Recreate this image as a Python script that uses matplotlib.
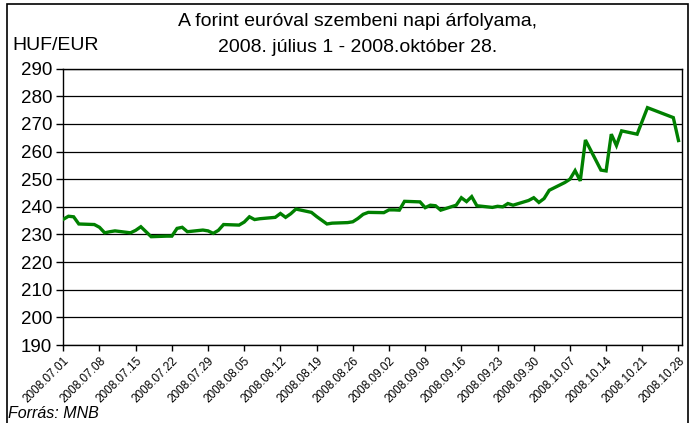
import matplotlib
matplotlib.use("Agg")
import matplotlib.pyplot as plt
import datetime as dt
from matplotlib.patches import Rectangle

plt.rcParams['font.family'] = ['Liberation Sans', 'DejaVu Sans']

dates = ["07.01", "07.02", "07.03", "07.04", "07.07", "07.08", "07.09", "07.10", "07.11",
         "07.14", "07.15", "07.16", "07.17", "07.18", "07.21", "07.22", "07.23", "07.24",
         "07.25", "07.28", "07.29", "07.30", "07.31", "08.01", "08.04", "08.05", "08.06",
         "08.07", "08.08", "08.11", "08.12", "08.13", "08.14", "08.15", "08.18", "08.19",
         "08.21", "08.22", "08.25", "08.26", "08.27", "08.28", "08.29", "09.01", "09.02",
         "09.03", "09.04", "09.05", "09.08", "09.09", "09.10", "09.11", "09.12", "09.15",
         "09.16", "09.17", "09.18", "09.19", "09.22", "09.23", "09.24", "09.25", "09.26",
         "09.29", "09.30", "10.01", "10.02", "10.03", "10.06", "10.07", "10.08", "10.09",
         "10.10", "10.13", "10.14", "10.15", "10.16", "10.17", "10.20", "10.22", "10.27",
         "10.28"]
values = [235.5, 236.6, 236.4, 233.8, 233.6, 232.6, 230.6, 231.0, 231.3,
          230.6, 231.5, 232.8, 231.0, 229.2, 229.4, 229.4, 232.2, 232.6,
          231.0, 231.6, 231.3, 230.4, 231.5, 233.6, 233.4, 234.5, 236.4,
          235.4, 235.7, 236.2, 237.6, 236.2, 237.5, 239.2, 238.0, 236.5,
          233.8, 234.1, 234.3, 234.6, 235.8, 237.3, 238.0, 237.9, 238.9,
          238.9, 238.8, 242.0, 241.8, 239.7, 240.6, 240.4, 238.8, 240.6,
          243.3, 241.9, 243.7, 240.4, 239.8, 240.2, 240.0, 241.2, 240.6,
          242.3, 243.3, 241.6, 243.0, 246.0, 248.8, 250.0, 253.1, 249.4,
          264.2, 253.3, 253.0, 266.3, 262.2, 267.5, 266.3, 275.9, 272.3,
          264.0]
tick_labels = ["2008.07.01", "2008.07.08", "2008.07.15", "2008.07.22", "2008.07.29",
               "2008.08.05", "2008.08.12", "2008.08.19", "2008.08.26", "2008.09.02",
               "2008.09.09", "2008.09.16", "2008.09.23", "2008.09.30", "2008.10.07",
               "2008.10.14", "2008.10.21", "2008.10.28"]
y_ticks = list(range(190, 291, 10))

x = [dt.datetime(2008, int(d[:2]), int(d[3:])) for d in dates]
xt = [dt.datetime.strptime(t, "%Y.%m.%d") for t in tick_labels]

fig = plt.figure(figsize=(6.94, 4.23), dpi=100)
ax = fig.add_axes([63.3/694, 1-345/423, (681.5-63.3)/694, (345-68.7)/423])

ax.plot(x, values, color='#008000', lw=2.4, solid_joinstyle='miter', zorder=3)

ax.set_ylim(190, 290)
ax.set_yticks(y_ticks)
ax.set_xlim(dt.datetime(2008, 7, 1), dt.datetime(2008, 10, 28, 14))
ax.set_xticks(xt)
ax.set_xticklabels(tick_labels, rotation=45, ha='right', rotation_mode='anchor', fontsize=8.5)
ax.tick_params(axis='y', labelsize=13.5, length=5, width=1, direction='out', pad=3)
ax.tick_params(axis='x', length=4, width=1, direction='out', pad=3)
ax.yaxis.grid(True, color='black', lw=0.9)
ax.set_axisbelow(True)
for s in ax.spines.values():
    s.set_color('black')
    s.set_linewidth(1.0)

fig.text(358/694, 1-22/423, "A forint euróval szembeni napi árfolyama,", ha='center', va='center', fontsize=14)
fig.text(358/694, 1-47/423, "2008. július 1 - 2008.október 28.", ha='center', va='center', fontsize=14)
fig.text(12/694, 1-46/423, "HUF/EUR", ha='left', va='center', fontsize=14)
fig.text(8/694, 1-413/423, "Forrás: MNB", ha='left', va='center', fontsize=11.5, style='italic')

fig.patches.append(Rectangle((7/694, -0.01), (688-7)/694, 1 - 4/423 + 0.01,
                             transform=fig.transFigure, fill=False, edgecolor='black', lw=1.2))

fig.savefig("out.png", dpi=100)
